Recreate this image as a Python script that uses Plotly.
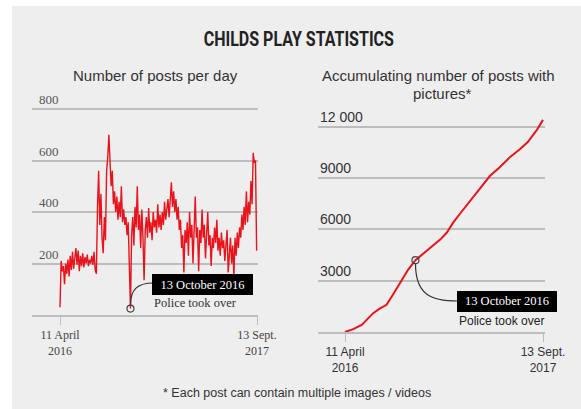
import pandas as pd
import plotly.graph_objects as go

# ---------------- data ----------------
start_date = "2016-04-11"
end_date = "2017-09-13"
step_days = 3

# posts per day (sampled every 3 days from 11 April 2016)
posts_a = [30, 210, 170, 190, 120, 200, 160, 215, 150, 230, 175, 245, 180, 220, 260, 195, 250,
           170, 230, 190, 240, 185, 225, 200, 235, 190, 215, 200, 230, 195, 245, 175, 160]
posts_b = [420, 560, 350, 470, 300, 240, 380, 290, 560, 610, 700, 580, 500, 560, 430, 480, 400,
           460, 370, 440, 380, 500, 360, 410, 350, 380, 310, 360, 200]
posts_c = [25]
posts_d = [310, 380, 270, 420, 340, 500, 330, 390, 260, 410,
           300, 135, 330, 380, 300, 415, 320, 360, 290, 400,
           340, 370, 320, 430, 340, 390, 330, 400, 350, 440,
           370, 410, 450, 380, 470, 515, 420, 480, 400, 450,
           370, 420, 330, 370, 260, 310, 165, 330, 280, 360,
           230, 400, 300, 350, 200, 380, 460, 300, 340, 170,
           330, 280, 410, 300, 350, 220, 330, 400, 270, 310,
           190, 300, 260, 340, 280, 370, 250, 300, 230, 320,
           260, 290, 210, 280, 330, 165, 260, 300, 200, 270,
           150, 300, 230, 320, 260, 340, 300, 390, 330, 420,
           350, 480, 360, 440, 390, 520, 430, 630, 590, 600,
           250]
posts_per_day = posts_a + posts_b + posts_c + posts_d

# accumulating number of posts with pictures
cum_days = [0, 20, 44, 60, 74, 90, 109, 125, 144, 166, 185, 210, 232, 250, 267, 284, 305,
            328, 355, 381, 405, 433, 460, 480, 503, 520]
cum_values = [0, 150, 410, 750, 1100, 1350, 1590, 2150, 2860, 3650, 4200, 4650, 5020, 5400,
              5800, 6390, 7000, 7660, 8400, 9130, 9600, 10220, 10700, 11100, 11780, 12400]

left_yticks = [200, 400, 600, 800]
left_yticktext = ["200", "400", "600", "800"]
right_yticks = [3000, 6000, 9000, 12000]
right_yticktext = ["3000", "6000", "9000", "12 000"]
left_xticktext = ["11 April<br>2016", "13 Sept.<br>2017"]
right_xticktext = ["11 April<br>2016", "13 Sept.<br>2017"]

title_text = "CHILDS PLAY STATISTICS"
left_title = "Number of posts per day"
right_title_1 = "Accumulating number of posts with"
right_title_2 = "pictures*"
event_label = "13 October 2016"
event_sub = "Police took over"
event_date = "2016-10-13"
footnote = "* Each post can contain multiple images / videos"

# ---------------- derived ----------------
W, H = 581, 409
t0 = pd.Timestamp(start_date)
t1 = pd.Timestamp(end_date)
dates = pd.date_range(t0, periods=len(posts_per_day), freq=f"{step_days}D")
cum_dates = [t0 + pd.Timedelta(days=d) for d in cum_days]

ev = pd.Timestamp(event_date)
idx_ev = min(range(len(dates)), key=lambda i: abs((dates[i] - ev).days))
ev_left_x, ev_left_y = dates[idx_ev], posts_per_day[idx_ev]
idx_ev_r = cum_dates.index(t0 + pd.Timedelta(days=(ev - t0).days))
ev_right_x, ev_right_y = cum_dates[idx_ev_r], cum_values[idx_ev_r]

RED = "#e8131b"
GRID = "#bdbdbd"


def px(x):
    return x / W


def py(y):
    return 1 - y / H


def date_range_for(px0, px1, px_start, px_end):
    span = (t1 - t0)
    per_px = span / (px_end - px_start)
    a = t0 - per_px * (px_start - px0)
    b = t0 + per_px * (px1 - px_start)
    return [a.strftime("%Y-%m-%d %H:%M:%S"), b.strftime("%Y-%m-%d %H:%M:%S")]


fig = go.Figure()

fig.add_trace(go.Scatter(x=dates, y=posts_per_day, mode="lines",
                         line=dict(color=RED, width=1.4), xaxis="x", yaxis="y",
                         showlegend=False, hoverinfo="skip"))
fig.add_trace(go.Scatter(x=[ev_left_x], y=[ev_left_y], mode="markers",
                         marker=dict(symbol="circle-open", size=7, color="#444",
                                     line=dict(width=1.2)),
                         xaxis="x", yaxis="y", showlegend=False, hoverinfo="skip"))
fig.add_trace(go.Scatter(x=cum_dates, y=cum_values, mode="lines",
                         line=dict(color=RED, width=2), xaxis="x2", yaxis="y2",
                         showlegend=False, hoverinfo="skip"))
fig.add_trace(go.Scatter(x=[ev_right_x], y=[ev_right_y], mode="markers",
                         marker=dict(symbol="circle-open", size=7, color="#444",
                                     line=dict(width=1.2)),
                         xaxis="x2", yaxis="y2", showlegend=False, hoverinfo="skip"))

serif = "Liberation Serif, Times New Roman, serif"
sans = "Liberation Sans, Arial, sans-serif"

left_y_scale = (315 - 109) / 800
right_y_scale = (332 - 126.7) / 12000
left_top = 880
right_top = 13300

fig.update_layout(
    width=W, height=H,
    margin=dict(l=0, r=0, t=0, b=0, autoexpand=False),
    paper_bgcolor="white", plot_bgcolor="rgba(0,0,0,0)",
    xaxis=dict(domain=[px(32), px(258)], type="date", automargin=False,
               range=date_range_for(32, 258, 60, 257),
               tickvals=[t0, t1], ticktext=left_xticktext,
               ticks="outside", ticklen=8, tickcolor=GRID, tickwidth=1.2,
               showline=True, linecolor=GRID, linewidth=1.5,
               showgrid=False, zeroline=False,
               tickfont=dict(family=serif, size=12, color="#444"), anchor="y"),
    yaxis=dict(domain=[py(315), py(315 - left_top * left_y_scale)], range=[0, left_top],
               automargin=False,
               tickvals=left_yticks, ticktext=left_yticktext,
               ticklabelposition="inside top", ticklabelstandoff=4,
               showgrid=True, gridcolor=GRID,
               gridwidth=1.5, zeroline=False, showline=False, ticks="",
               tickfont=dict(family=serif, size=13, color="#555"), anchor="x"),
    xaxis2=dict(domain=[px(318), px(545)], type="date", automargin=False,
                range=date_range_for(318, 545, 345, 543),
                tickvals=[t0, t1], ticktext=right_xticktext,
                ticks="outside", ticklen=8, tickcolor=GRID, tickwidth=1.2,
                showline=True, linecolor=GRID, linewidth=1.5,
                showgrid=False, zeroline=False,
                tickfont=dict(family=sans, size=12, color="#333"), anchor="y2"),
    yaxis2=dict(domain=[py(332), py(332 - right_top * right_y_scale)], range=[0, right_top],
                automargin=False,
                tickvals=right_yticks, showticklabels=False,
                showgrid=True, gridcolor=GRID,
                gridwidth=1.5, zeroline=False, showline=False, ticks="", anchor="x2"),
)

shapes = [
    dict(type="rect", xref="paper", yref="paper", x0=px(12), x1=1.0, y0=0.0, y1=py(6),
         fillcolor="#eeeeee", line=dict(width=0), layer="below"),
    dict(type="path", xref="paper", yref="paper",
         path=f"M {px(130.5)},{py(305)} C {px(130.5)},{py(290)} {px(137)},{py(283)} {px(153)},{py(283)}",
         line=dict(color="#333", width=1.2)),
    dict(type="path", xref="paper", yref="paper",
         path=f"M {px(415.5)},{py(263.5)} C {px(415.5)},{py(294)} {px(430)},{py(301)} {px(458)},{py(301)}",
         line=dict(color="#333", width=1.2)),
]
fig.update_layout(shapes=shapes)

ann = [
    dict(x=px(299), y=py(39), text=f"<b>{title_text}</b>",
         font=dict(family="Roboto, DejaVu Sans, sans-serif", size=20, color="#222")),
    dict(x=px(155), y=py(76), text=left_title, font=dict(family=sans, size=15, color="#333")),
    dict(x=px(438), y=py(76), text=right_title_1, font=dict(family=sans, size=15, color="#333")),
    dict(x=px(442), y=py(93), text=right_title_2, font=dict(family=sans, size=15, color="#333")),
    dict(x=px(202.5), y=py(284.5), text=event_label, bgcolor="black", bordercolor="black",
         borderpad=2, width=95, height=15, font=dict(family=serif, size=12.5, color="white")),
    dict(x=px(195), y=py(302.5), text=event_sub, font=dict(family=serif, size=12.5, color="#333")),
    dict(x=px(506.7), y=py(301.5), text=event_label, bgcolor="black", bordercolor="black",
         borderpad=2, width=94, height=14.5, font=dict(family=serif, size=12.5, color="white")),
    dict(x=px(501.7), y=py(320.7), text=event_sub, font=dict(family=sans, size=12, color="#222")),
    dict(x=px(297), y=py(393), text=footnote, font=dict(family=sans, size=12.5, color="#333")),
]
for a in ann:
    a.update(xref="paper", yref="paper", showarrow=False, xanchor="center", yanchor="middle")

# right-hand y tick labels sit on top of their grid lines, left aligned
for val, txt in zip(right_yticks, right_yticktext):
    ann.append(dict(x=0, xref="x2 domain", y=val, yref="y2", text=txt, showarrow=False,
                    xanchor="left", yanchor="bottom", yshift=0,
                    font=dict(family=sans, size=14, color="#333")))
fig.update_layout(annotations=ann)

post = """
document.body.style.margin='0';
document.documentElement.style.overflow='hidden';
var gd=document.getElementById('{plot_id}');
gd.querySelectorAll('.annotation-text').forEach(function(t){
  if(t.textContent==='CHILDS PLAY STATISTICS'){
    t.style.transformBox='fill-box';
    t.style.transformOrigin='center';
    t.style.transform='scaleX(0.8)';
  }
});
"""
fig.write_html("out.html", config={"displayModeBar": False}, post_script=post)
